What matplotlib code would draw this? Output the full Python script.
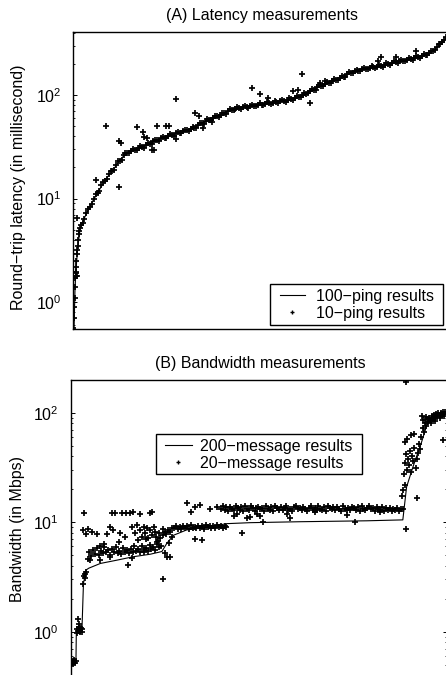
import numpy as np
import matplotlib
matplotlib.use("Agg")
import matplotlib.pyplot as plt
from matplotlib.patches import Rectangle
from matplotlib.lines import Line2D

plt.rcParams['font.family'] = ['Liberation Sans', 'DejaVu Sans']
plt.rcParams['mathtext.default'] = 'regular'
plt.rcParams['font.size'] = 11.5

# ---------------- (A) latency data (x = node rank, % of nodes) ----------------
lat100_rank = [0, 0.2, 0.45, 0.7, 1.2, 1.8, 2.7, 4.0, 5.4, 7.2, 8.9, 10.7, 12.5, 14.3,
               16.1, 18.8, 21.5, 25.0, 28.6, 32.2, 35.8, 39.4, 42.9, 46.5, 50.1, 53.7,
               57.2, 60.8, 64.4, 68.0, 71.6, 75.1, 78.7, 82.3, 85.9, 89.4, 93.0, 95.7,
               97.6, 100]
lat100_ms = [0.55, 0.56, 1.3, 2.0, 3.4, 5.0, 6.2, 7.7, 9.7, 12.5, 15.7, 18.9, 23.5, 27.7,
             29.4, 31.7, 35.4, 39.6, 43.3, 47.6, 56.5, 64, 72.8, 77, 80.7, 84.4,
             88.2, 96.4, 113, 130, 145, 168, 181, 190, 205, 218, 235, 252,
             290, 355]

lat10_start_rank = [0.05, 0.15, 0.25, 0.35, 0.45, 0.55, 0.6, 0.65, 0.75, 0.85, 0.95,
                    1.05, 1.2, 1.35, 1.5, 1.65, 1.8, 0.9, 0.7, 0.9]
lat10_start_ms = [0.56, 0.7, 0.9, 1.1, 1.4, 1.7, 1.8, 1.9, 2.2, 2.5, 2.9,
                  3.2, 3.5, 4.0, 4.5, 4.8, 5.2, 6.5, 1.96, 1.8]

lat10_band_rank = np.arange(2, 101)
lat10_band_ms = [5.6, 6.3, 8.0, 8.8, 11.0, 11.8, 14.5, 15.3, 18.3, 19.0,
                 22.9, 23.8, 27.8, 27.5, 30.2, 29.4, 31.9, 31.0, 34.3, 33.8,
                 37.1, 36.3, 39.5, 38.6, 41.9, 40.6, 44.0, 42.7, 46.3, 45.0,
                 48.8, 48.0, 53.4, 53.0, 58.6, 57.8, 62.9, 61.6, 67.5, 66.2,
                 72.6, 71.0, 76.4, 73.4, 78.7, 75.6, 80.9, 77.6, 83.0, 79.6,
                 85.1, 81.6, 87.2, 83.7, 89.5, 85.8, 92.7, 90.0, 97.3, 94.9,
                 104.9, 103.8, 114.6, 112.9, 124.0, 122.2, 133.9, 130.7, 142.6, 138.9,
                 151.9, 150.2, 165.6, 163.3, 176.1, 170.6, 183.9, 177.2, 189.7, 182.1,
                 194.9, 187.8, 202.7, 196.0, 211.6, 203.8, 219.2, 211.1, 227.1, 219.4,
                 236.9, 229.1, 248.2, 241.3, 264.7, 271.1, 309, 322, 365]

# second sample of the dense band, between the integer ranks
lat10_mid_rank = np.arange(2.5, 100.5, 1.0)
lat10_mid_ms = [5.8, 7.2, 8.2, 10.0, 11.2, 13.4, 14.7, 17.2, 18.4, 21.0,
                23.2, 26.2, 27.4, 29.0, 29.6, 31.0, 31.2, 33.0, 33.9, 35.6,
                36.4, 38.2, 38.7, 40.6, 41.0, 42.6, 43.0, 45.0, 45.4, 47.4,
                48.0, 51.0, 53.4, 56.0, 57.8, 60.6, 62.0, 64.6, 66.4, 69.6,
                71.2, 73.8, 74.6, 76.2, 76.8, 78.2, 78.8, 80.4, 80.9, 82.4,
                82.8, 84.6, 84.9, 86.8, 87.2, 89.4, 90.6, 94.0, 95.4, 99.6,
                103.2, 109.8, 112.2, 118.6, 121.8, 128.6, 131.0, 137.0, 139.8, 145.6,
                149.6, 158.0, 161.8, 169.8, 172.2, 177.6, 180.0, 183.4, 185.0, 188.4,
                190.8, 195.6, 198.2, 204.0, 206.6, 211.4, 213.8, 219.0, 221.4, 228.0,
                231.4, 239.0, 243.0, 252.0, 266.0, 289.0, 314.0, 342.0]

lat10_out_rank = [6.1, 8.8, 12.3, 12.8, 12.3, 17.0, 18.8, 19.0, 19.7, 21.0, 21.6, 22.5,
                  25.0, 25.8, 27.5, 27.5, 32.6, 33.8, 34.7, 37.3, 47.9, 50.1, 52.3,
                  59.0, 60.4, 61.3, 63.5, 66.2, 67.5, 81.8, 82.6, 86.6, 91.9]
lat10_out_ms = [15.1, 50.1, 36.2, 34.6, 12.8, 48.7, 44.3, 39.6, 38.7, 29.5, 29.5, 50.6,
                50.2, 50.2, 92.2, 37.3, 67.5, 62.7, 47.6, 54.5, 116, 102, 94.3,
                110, 112, 160, 83, 132, 137, 213, 231, 231, 268]

# ---------------- (B) bandwidth data ----------------
bw200_rank = [0, 1.4, 1.5, 3.0, 3.4, 4.1, 4.8, 7.9, 12.3, 16.7, 21.2, 24.3, 25.6, 27.4,
              30.9, 36.3, 41.6, 47.8, 61.1, 78.9, 88.5, 89.5, 91.2, 93.5, 94.9, 96.5, 100]
bw200_mbps = [0.53, 0.53, 1.0, 1.05, 2.76, 3.66, 3.8, 4.2, 4.5, 4.84, 5.1, 5.4, 6.4, 7.6,
              8.5, 9.0, 9.7, 9.9, 10.1, 10.3, 10.5, 21, 32, 54, 77, 92, 99]

bw20_low_rank = [0.1, 0.3, 0.5, 0.7, 0.9, 1.1, 1.3, 0.2, 0.6, 1.0,
                 1.6, 1.8, 2.0, 2.2, 2.4, 2.6, 2.8, 3.0, 1.9, 2.1, 2.5, 2.9,
                 3.3, 3.5, 3.7, 3.9, 4.1]
bw20_low_mbps = [0.52, 0.54, 0.51, 0.53, 0.55, 0.52, 0.54, 0.53, 0.52, 0.54,
                 0.98, 1.06, 1.01, 1.10, 0.99, 1.04, 1.07, 1.0, 1.3, 1.18, 1.02, 1.05,
                 2.7, 3.2, 3.4, 3.1, 3.5]

bw20_d_rank = np.arange(4.5, 24.5, 0.5)
bw20_d_mbps = [4.6, 5.3, 4.9, 5.6, 5.1, 5.8, 5.0, 5.5, 5.2, 5.9,
               5.3, 5.6, 5.0, 5.7, 5.4, 5.9, 5.2, 5.5, 5.1, 5.8,
               5.4, 5.6, 5.2, 5.7, 5.3, 6.0, 5.5, 5.7, 5.3, 6.1,
               5.6, 5.8, 5.5, 6.2, 5.7, 5.9, 5.6, 6.3, 5.9, 6.1]

bw20_e_rank = np.arange(24.5, 42.0, 0.5)
bw20_e_mbps = [7.6, 8.2, 7.8, 8.5, 8.1, 8.8, 8.9, 9.2, 8.7, 9.1,
               8.6, 9.3, 8.9, 9.2, 8.7, 9.4, 8.9, 9.1, 8.8, 9.3,
               8.9, 9.2, 8.7, 9.4, 9.0, 9.2, 8.8, 9.3, 8.9, 9.4,
               9.0, 9.2, 8.9, 9.3, 9.0]

bw20_f_rank = np.arange(40.0, 89.0, 0.5)
bw20_f_mbps = [13.3, 14.0, 12.9, 13.7, 12.7, 13.8, 13.15, 12.8, 14.1, 13.4,
               13.0, 13.75, 12.75, 13.95, 13.2, 12.95, 14.2, 13.35, 12.6, 13.6,
               13.9, 13.1, 13.5, 12.75, 14.05, 13.15, 12.9, 13.75, 12.7, 13.95,
               13.35, 12.95, 13.8, 12.8, 13.55, 14.1, 13.0, 13.3, 12.75, 13.7,
               14.0, 13.1, 13.4, 12.9, 13.9, 13.15, 12.7, 13.6, 14.2, 13.0,
               13.5, 12.8, 13.95, 13.2, 12.95, 13.75, 12.75, 14.05, 13.35, 13.1,
               13.7, 12.9, 13.8, 13.3, 12.7, 14.1, 13.15, 13.0, 13.55, 12.8,
               13.9, 13.4, 12.95, 13.75, 12.75, 14.0, 13.2, 12.9, 13.6, 14.2,
               13.1, 13.5, 12.7, 13.8, 13.3, 12.8, 13.7, 12.6, 13.4, 13.0,
               13.55, 12.75, 13.2, 12.95, 13.5, 12.7, 13.1, 13.3]

bw20_cloud_rank = [3.4, 4.0, 4.7, 5.6, 7.0, 3.6, 7.9, 9.6, 10.5, 11.0, 11.9, 11.4,
                   13.6, 14.8, 15.8, 16.7, 18.5, 21.0, 21.6, 15.4, 13.2, 14.5, 16.3,
                   17.2, 17.6, 18.5, 19.0, 19.4, 19.8, 20.3, 20.7, 21.2, 21.6, 22.1,
                   22.5, 22.9, 23.4, 23.8, 24.5, 24.7, 25.2, 25.6, 26.5, 26.1, 26.9,
                   7.9, 5.2, 10.5, 16.3, 19.4, 9.0, 12.8, 17.9, 20.0, 22.8, 23.2,
                   33.2, 34.9, 31.1, 32.1, 33.2, 34.5, 37.0, 38.9, 45.6,
                   43.4, 44.3, 46.9, 47.8, 49.6, 50.5, 51.3, 57.6, 58.5, 65.1, 73.6,
                   82.4, 75.8]
bw20_cloud_mbps = [8.5, 7.8, 8.7, 8.2, 7.8, 12.2, 6.0, 7.8, 9.1, 12.2, 12.2, 8.5,
                   12.2, 12.2, 12.2, 12.5, 12.0, 12.2, 12.4, 4.1, 7.9, 7.4, 9.1,
                   7.9, 9.4, 8.5, 7.4, 9.1, 7.9, 8.8, 7.1, 8.5, 7.6, 9.1,
                   8.2, 6.6, 7.9, 7.1, 8.6, 3.0, 5.2, 4.8, 4.8, 6.4, 7.4,
                   4.5, 4.5, 4.8, 4.7, 5.4, 6.3, 6.6, 6.9, 7.0, 7.4, 6.8,
                   7.0, 6.9, 14.9, 12.5, 13.8, 14.4, 13.3, 13.7, 7.9,
                   11.5, 11.9, 10.9, 11.1, 11.9, 11.5, 10.0, 11.9, 10.9, 12.3, 11.7,
                   12.3, 10.0]

bw20_g_rank = [88.2, 88.5, 88.8, 89.1, 89.0, 89.3, 89.5, 89.1, 89.6, 89.9, 90.2, 90.5,
               90.8, 91.0, 91.3, 91.6, 91.9, 92.2, 92.2, 92.5, 92.8, 93.1, 93.4, 93.5,
               93.8, 94.1, 94.4, 94.7, 95.0, 95.3, 95.6, 95.9, 96.2, 96.5, 96.8, 97.1,
               97.4, 97.7, 98.0, 98.3, 98.6, 98.9, 99.2, 99.5, 99.8, 99.3, 89.3, 89.3,
               90.6, 91.4, 94.0, 94.6, 96.0, 97.0, 98.5, 99.6]
bw20_g_mbps = [17.5, 19.5, 27.7, 22, 35, 42, 58, 54, 30, 38, 33, 45,
               29, 40, 36, 48, 31, 38, 16.7, 43, 52, 47, 60, 94,
               72, 66, 80, 75, 88, 82, 90, 85, 93, 88, 95, 90,
               97, 92, 99, 94, 100, 96, 101, 97, 102, 56, 190, 8.7,
               62, 64, 86, 92, 80, 84, 90, 94]

# ---------------- figure ----------------
W, H = 446, 675
fig = plt.figure(figsize=(W / 100, H / 100), dpi=100)


def fx(x):
    return x / W


def fy(y):
    return 1 - y / H


MS, MEW, LW = 4.4, 1.25, 0.8


def style_axis(ax):
    ax.set_yscale('log')
    ax.set_xticks([])
    ax.tick_params(axis='y', which='major', direction='in', length=3, width=0.7,
                   left=True, right=True, pad=8.5, labelsize=11.5)
    ax.tick_params(axis='y', which='minor', direction='in', length=1.6, width=0.6,
                   left=True, right=True)
    for s in ax.spines.values():
        s.set_linewidth(1.0)


# (A)
ax1 = fig.add_axes([fx(73.3), fy(329.3), (455 - 73.3) / W, (329.3 - 32) / H])
style_axis(ax1)
ax1.plot(lat100_rank, lat100_ms, color='black', lw=LW)
ax1.plot(list(lat10_start_rank) + list(lat10_band_rank) + list(lat10_mid_rank)
         + lat10_out_rank,
         lat10_start_ms + lat10_band_ms + lat10_mid_ms + lat10_out_ms,
         ls='none', marker='+', ms=MS, mew=MEW, color='black')
ax1.set_xlim(0, 102.4)
ax1.set_ylim(10 ** ((302 - 329.3) / 103.5), 10 ** ((302 - 32) / 103.5))

# (B)
ax2 = fig.add_axes([fx(70.7), fy(690), (447 - 70.7) / W, (690 - 380) / H])
style_axis(ax2)
ax2.plot(bw200_rank, bw200_mbps, color='black', lw=LW)
bx = (bw20_low_rank + list(bw20_d_rank) + list(bw20_e_rank) + list(bw20_f_rank)
      + bw20_cloud_rank + bw20_g_rank)
by = (bw20_low_mbps + bw20_d_mbps + bw20_e_mbps + bw20_f_mbps
      + bw20_cloud_mbps + bw20_g_mbps)
ax2.plot(bx, by, ls='none', marker='+', ms=MS, mew=MEW, color='black')
ax2.set_xlim(0, 100.27)
ax2.set_ylim(10 ** ((631.7 - 690) / 109.5), 10 ** ((631.7 - 380) / 109.5))

# titles and axis labels
fig.text(fx(262.5), fy(15.7), '(A) Latency measurements', ha='center', va='center',
         fontsize=11.5)
fig.text(fx(260), fy(363.3), '(B) Bandwidth measurements', ha='center', va='center',
         fontsize=11.5)
fig.text(fx(19), fy(187), 'Round\u2212trip latency (in millisecond)', rotation=90,
         ha='center', va='center', fontsize=11.5)
fig.text(fx(17.5), fy(529), 'Bandwidth (in Mbps)', rotation=90,
         ha='center', va='center', fontsize=11.5)


def make_legend(ax, labels, anchor, hlen, tpad, box):
    handles = [Line2D([], [], color='black', lw=LW),
               Line2D([], [], ls='none', marker='+', ms=3.5, mew=1.0, color='black')]
    x0, y0, x1, y1 = box
    rect = Rectangle((fx(x0), fy(y1)), (x1 - x0) / W, (y1 - y0) / H,
                     transform=fig.transFigure, facecolor='white', edgecolor='black',
                     lw=1.0, zorder=4, clip_on=False)
    ax.add_artist(rect)
    leg = ax.legend(handles, labels, loc='upper left',
                    bbox_to_anchor=(fx(anchor[0]), fy(anchor[1])),
                    bbox_transform=fig.transFigure, frameon=False, borderpad=0,
                    borderaxespad=0, handlelength=hlen, handletextpad=tpad,
                    labelspacing=0.12, numpoints=1, fontsize=11.5)
    leg.set_zorder(5)
    return leg


make_legend(ax1, ['100\u2212ping results', '10\u2212ping results'],
            (280, 289), 1.56, 0.69, (270, 284, 443, 325))
make_legend(ax2, ['200\u2212message results', '20\u2212message results'],
            (165, 439), 1.69, 0.5, (156, 434, 362, 474))

fig.savefig('out.png', dpi=100)
